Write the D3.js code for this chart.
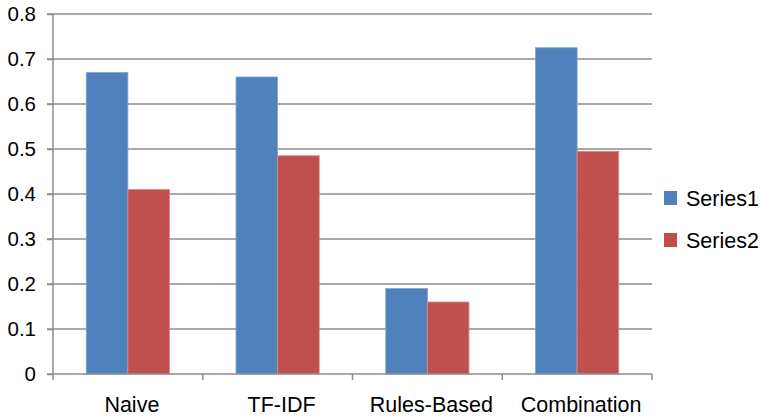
<!DOCTYPE html>
<html><head><meta charset="utf-8">
<script src="https://cdn.jsdelivr.net/npm/d3@7"></script>
<style>body{margin:0;background:#fff;} text{font-family:"Liberation Sans",Arial,Helvetica,sans-serif;}</style>
</head><body>
<svg id="c" width="763" height="417"></svg>
<script>
const categories = ["Naive", "TF-IDF", "Rules-Based", "Combination"];
const seriesNames = ["Series1", "Series2"];
const series1 = [0.67, 0.66, 0.19, 0.725];
const series2 = [0.41, 0.485, 0.16, 0.495];
const yTicks = [0, 0.1, 0.2, 0.3, 0.4, 0.5, 0.6, 0.7, 0.8];
const colors = ["#4F81BD", "#C0504D"];

(function () {
const svg = d3.select("#c");
const pl = 53, pr = 652, pt = 14, pb = 374;
const x = d3.scaleBand().domain(categories).range([pl, pr]).padding(0);
const xs = d3.scaleBand().domain(seriesNames).range([0, x.bandwidth()]).paddingInner(0).paddingOuter(0.8);
const y = d3.scaleLinear().domain([0, 0.8]).range([pb, pt]);

// gridlines
svg.append("g").selectAll("line").data(yTicks.filter(d => d > 0)).join("line")
  .attr("x1", pl - 6).attr("x2", pr).attr("y1", d => y(d)).attr("y2", d => y(d))
  .attr("stroke", "#8c8c8c").attr("stroke-width", 1.5);

// bars
const data = categories.map((c, i) => ({c, vals: [series1[i], series2[i]]}));
const g = svg.append("g");
data.forEach(d => {
  d.vals.forEach((v, j) => {
    g.append("rect")
      .attr("x", x(d.c) + xs(seriesNames[j]))
      .attr("y", y(v))
      .attr("width", xs.bandwidth())
      .attr("height", y(0) - y(v))
      .attr("fill", colors[j])
      .attr("stroke", j === 0 ? "#7fa3d1" : "#d98a88").attr("stroke-width", 0.8);
  });
});

// y axis
const ya = d3.axisLeft(y).tickValues(yTicks).tickSize(6).tickFormat(d => d === 0 ? "0" : d3.format(".1f")(d));
const yg = svg.append("g").attr("transform", `translate(${pl},0)`).call(ya);
yg.select(".domain").attr("stroke", "#8c8c8c").attr("stroke-width", 1.5).attr("d", `M0,${pt}V${pb}`);
yg.selectAll(".tick line").attr("stroke", "#8c8c8c").attr("stroke-width", 1.5);
yg.selectAll(".tick text").attr("x", -17).attr("font-size", 20.5).attr("fill", "#000").attr("font-family", "Liberation Sans, Arial, sans-serif");

// x axis
const xb = categories.map(c => x(c)).concat([pr]);
svg.append("line").attr("x1", pl - 6).attr("x2", pr).attr("y1", pb).attr("y2", pb)
  .attr("stroke", "#8c8c8c").attr("stroke-width", 1.5);
svg.append("g").selectAll("line").data(xb).join("line")
  .attr("x1", d => d).attr("x2", d => d).attr("y1", pb).attr("y2", pb + 6)
  .attr("stroke", "#8c8c8c").attr("stroke-width", 1.5);
svg.append("g").selectAll("text").data(categories).join("text")
  .attr("x", d => x(d) + x.bandwidth() / 2 + 4).attr("y", 411.5)
  .attr("text-anchor", "middle").attr("font-size", 21.5).attr("fill", "#000")
  .text(d => d);

// legend
const lg = svg.append("g");
seriesNames.forEach((s, i) => {
  const yy = 191 + i * 42;
  lg.append("rect").attr("x", 664).attr("y", yy).attr("width", 13).attr("height", 14).attr("fill", colors[i]);
  lg.append("text").attr("x", 686).attr("y", yy + 14.5).attr("font-size", 21.5).attr("fill", "#000").text(s);
});
})();
</script>
</body></html>
